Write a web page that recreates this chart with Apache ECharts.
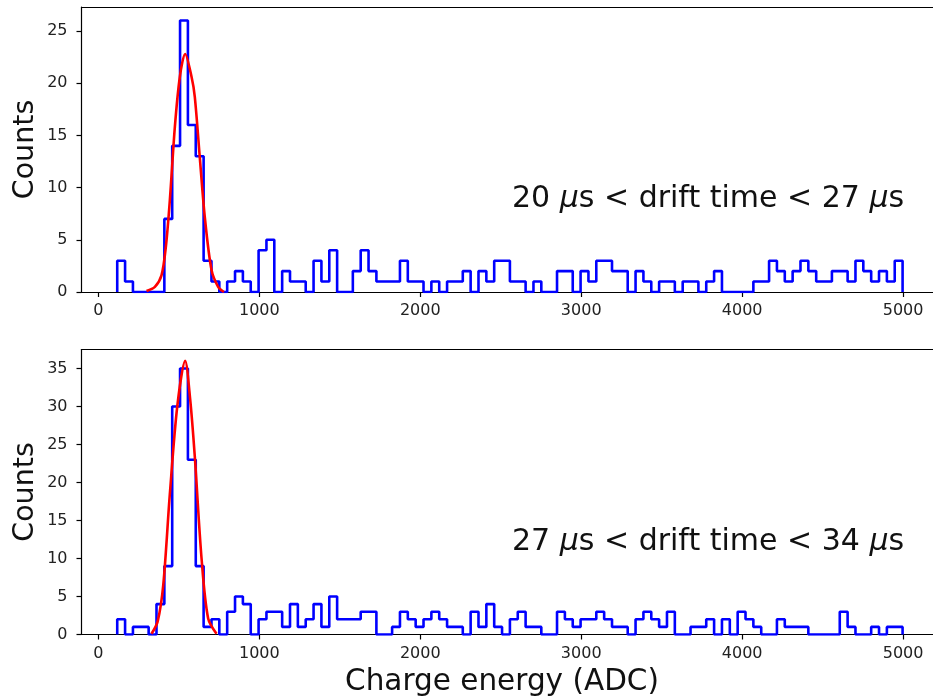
<!DOCTYPE html>
<html><head><meta charset="utf-8">
<script src="https://cdn.jsdelivr.net/npm/echarts@6/dist/echarts.min.js"></script>
<style>html,body{margin:0;padding:0;background:#fff}#c{width:933px;height:698px}</style>
</head><body><div id="c"></div>
<script>
// histogram binning (ADC)
const binStart = 117;
const binWidth = 48.8;
// counts per bin, 20-27 us
const countsTop = [3,1,0,0,0,0,7,14,26,16,13,3,1,0,1,2,1,0,4,5,
  0,2,1,1,0,3,1,4,0,0,2,4,2,1,1,1,3,1,1,0,
  1,0,1,1,2,0,2,1,3,3,1,1,0,1,0,0,2,2,0,2,
  1,3,3,2,2,0,2,1,0,1,1,0,1,1,0,1,2,0,0,0,
  0,1,1,3,2,1,2,3,2,1,1,2,2,1,3,2,1,2,1,3];
// counts per bin, 27-34 us
const countsBottom = [2,0,1,1,0,4,9,30,35,23,9,1,2,0,3,5,4,0,2,3,
  3,1,4,1,2,4,1,5,2,2,2,3,3,0,0,1,3,2,1,2,
  3,2,1,1,0,3,1,4,1,0,2,3,1,1,0,0,3,2,1,2,
  2,3,2,1,1,0,2,3,2,1,3,0,0,1,1,2,0,2,0,3,
  2,1,0,0,2,1,1,1,0,0,0,0,3,1,0,0,1,0,1,1];
// fitted gaussian curves
const fitTopX = [299,351,392,419,444,475,506,539,579,599,630,661,703,744,780];
const fitTopY = [0.1,0.5,1.6,4.3,8.8,15.8,20.6,22.8,20.6,18.7,12.9,7.2,2.1,0.5,0];
const fitBottomX = [330,368,403,444,490,539,570,599,641,682,734];
const fitBottomY = [0.1,1.7,6.5,18.5,30,36,31,23.4,10,2.1,0.1];
const xTicks = [0,1000,2000,3000,4000,5000];
const yTicksTop = [0,5,10,15,20,25];
const yTicksBottom = [0,5,10,15,20,25,30,35];
const labelTop = '20 {i|μ}s < drift time < 27 {i|μ}s';
const labelBottom = '27 {i|μ}s < drift time < 34 {i|μ}s';
const xName = 'Charge energy (ADC)';
const yName = 'Counts';

const FONT = 'DejaVu Sans';
const X_MIN = -105, X_MAX = 5245;
function stepData(counts){
  const d = [[binStart, 0]];
  counts.forEach((c, i) => d.push([binStart + i * binWidth, c]));
  d.push([binStart + counts.length * binWidth, 0]);
  return d;
}
function zip(xs, ys){ return xs.map((x, i) => [x, ys[i]]); }

const chart = echarts.init(document.getElementById('c'), null, {renderer: 'canvas'});
const axisLine = {show: true, onZero: false, lineStyle: {color: '#000', width: 1.2}};
const plain = v => String(v);
function xAxis(idx, withName){
  return {
    type: 'value', gridIndex: idx, min: X_MIN, max: X_MAX, position: 'bottom',
    axisLine: axisLine, splitLine: {show: false},
    axisTick: {show: true, inside: false, length: 5, customValues: xTicks, lineStyle: {color: '#000', width: 1.2}},
    axisLabel: {customValues: xTicks, formatter: plain, color: '#222', fontSize: 16, fontFamily: FONT, margin: 11},
    name: withName ? xName : '', nameLocation: 'middle', nameGap: 33, nameMoveOverlap: false,
    nameTextStyle: {fontSize: 29.5, fontFamily: FONT, color: '#111', padding: [0, 20, 0, 0]}
  };
}
function topFrame(idx){
  return {
    type: 'value', gridIndex: idx, min: X_MIN, max: X_MAX, position: 'top',
    axisLine: axisLine, axisTick: {show: false}, axisLabel: {show: false}, splitLine: {show: false}
  };
}
function yAxis(idx, max, ticks){
  return {
    type: 'value', gridIndex: idx, min: 0, max: max,
    axisLine: axisLine, splitLine: {show: false},
    axisTick: {show: true, inside: false, length: 5, customValues: ticks, lineStyle: {color: '#000', width: 1.2}},
    axisLabel: {customValues: ticks, formatter: plain, color: '#222', fontSize: 16, fontFamily: FONT, margin: 14},
    name: yName, nameLocation: 'middle', nameGap: 41, nameRotate: 90, nameMoveOverlap: false,
    nameTextStyle: {fontSize: 28.5, fontFamily: FONT, color: '#111'}
  };
}
const richI = {i: {fontStyle: 'italic', fontSize: 30, fontFamily: FONT, fill: '#111'}};
chart.setOption({
  animation: false,
  backgroundColor: '#fff',
  grid: [
    {left: 81.5, top: 7, width: 861, height: 285, outerBoundsMode: 'none', show: false},
    {left: 81.5, top: 349.5, width: 861, height: 285, outerBoundsMode: 'none', show: false}
  ],
  xAxis: [xAxis(0, false), xAxis(1, true), topFrame(0), topFrame(1)],
  yAxis: [yAxis(0, 27.3, yTicksTop), yAxis(1, 37.5, yTicksBottom)],
  series: [
    {type: 'line', xAxisIndex: 0, yAxisIndex: 0, step: 'end', data: stepData(countsTop), showSymbol: false,
     lineStyle: {color: '#0000ff', width: 2.6}, z: 2},
    {type: 'line', xAxisIndex: 0, yAxisIndex: 0, data: zip(fitTopX, fitTopY), showSymbol: false, smooth: 0.3,
     lineStyle: {color: '#ff0000', width: 2.6}, z: 3},
    {type: 'line', xAxisIndex: 1, yAxisIndex: 1, step: 'end', data: stepData(countsBottom), showSymbol: false,
     lineStyle: {color: '#0000ff', width: 2.6}, z: 2},
    {type: 'line', xAxisIndex: 1, yAxisIndex: 1, data: zip(fitBottomX, fitBottomY), showSymbol: false, smooth: 0.3,
     lineStyle: {color: '#ff0000', width: 2.6}, z: 3}
  ],
  graphic: [
    {type: 'text', left: 512, top: 184, style: {text: labelTop, fontSize: 30, fontFamily: FONT, fill: '#111', rich: richI}},
    {type: 'text', left: 512, top: 527, style: {text: labelBottom, fontSize: 30, fontFamily: FONT, fill: '#111', rich: richI}}
  ]
});
</script></body></html>
